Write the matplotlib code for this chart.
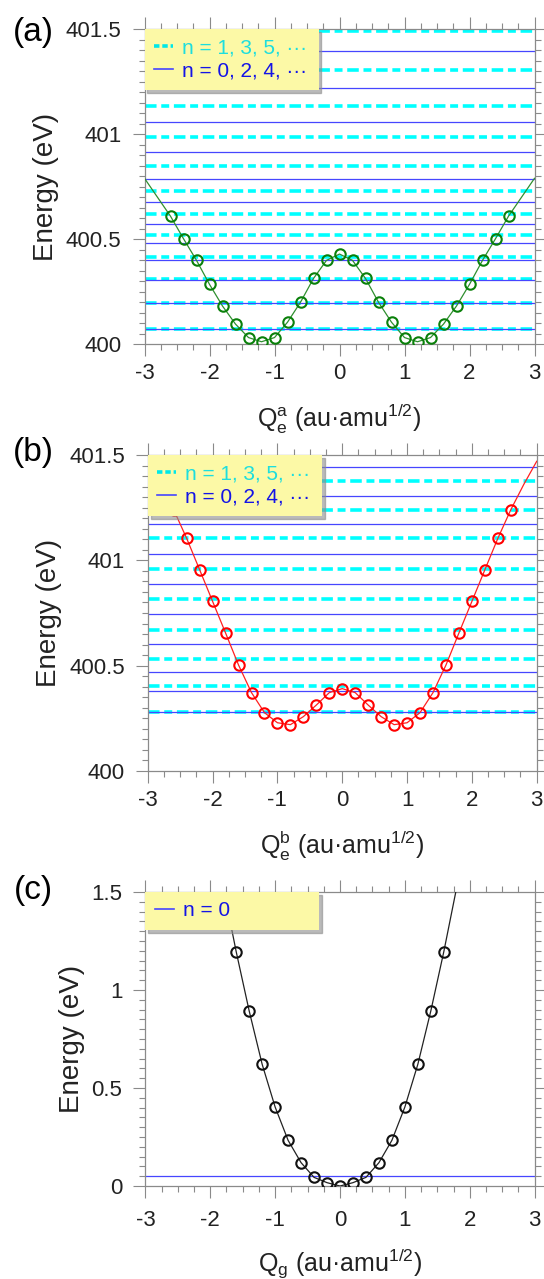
"""
plot.py
-------
Three stacked potential-energy panels with vibrational levels:
    (a) Q_e^a double well, (b) Q_e^b double well, (c) Q_g single well.
"""
import matplotlib
matplotlib.use("Agg")
import matplotlib.pyplot as plt
from matplotlib.lines import Line2D
from matplotlib.ticker import MultipleLocator

plt.rcParams["font.family"] = ["Liberation Sans", "DejaVu Sans"]
plt.rcParams["mathtext.fontset"] = "custom"
plt.rcParams["mathtext.rm"] = "Liberation Sans"
plt.rcParams["mathtext.it"] = "Liberation Sans:italic"
plt.rcParams["axes.unicode_minus"] = False

# ---- data ---------------------------------------------------------------
Q_AB = [-2.6, -2.4, -2.2, -2.0, -1.8, -1.6, -1.4, -1.2, -1.0, -0.8, -0.6,
        -0.4, -0.2, 0.0, 0.2, 0.4, 0.6, 0.8, 1.0, 1.2, 1.4, 1.6, 1.8, 2.0,
        2.2, 2.4, 2.6]
E_A = [400.610, 400.503, 400.400, 400.286, 400.183, 400.097, 400.033,
       400.013, 400.033, 400.106, 400.201, 400.314, 400.400, 400.430,
       400.400, 400.314, 400.201, 400.106, 400.033, 400.013, 400.033,
       400.097, 400.183, 400.286, 400.400, 400.503, 400.610]
E_B = [401.240, 401.104, 400.955, 400.805, 400.655, 400.503, 400.372,
       400.277, 400.229, 400.220, 400.258, 400.313, 400.372, 400.391,
       400.372, 400.313, 400.258, 400.220, 400.229, 400.277, 400.372,
       400.503, 400.655, 400.805, 400.955, 401.104, 401.240]
Q_C = [-1.6, -1.4, -1.2, -1.0, -0.8, -0.6, -0.4, -0.2, 0.0, 0.2, 0.4, 0.6,
       0.8, 1.0, 1.2, 1.4, 1.6]
E_C = [1.195, 0.893, 0.621, 0.403, 0.233, 0.119, 0.044, 0.017, 0.000,
       0.017, 0.044, 0.119, 0.233, 0.403, 0.621, 0.893, 1.195]

# continuation of the fitted curves beyond the outermost points
Q_END_AB = [-3.0, -2.8, 2.8, 3.0]
E_END_A = [400.79, 400.70, 400.70, 400.79]
E_END_B = [401.47, 401.36, 401.36, 401.47]
Q_END_C = [-1.8, 1.8]
E_END_C = [1.525, 1.525]

# vibrational levels (odd n dashed cyan, even n solid blue)
ODD_A = [400.076, 400.199, 400.311, 400.418, 400.520, 400.622, 400.730,
         400.848, 400.986, 401.133, 401.305, 401.490]
EVEN_A = [400.076, 400.199, 400.308, 400.400, 400.481, 400.573, 400.676,
          400.786, 400.914, 401.057, 401.219, 401.395]
ODD_B = [400.281, 400.403, 400.532, 400.671, 400.815, 400.960, 401.104,
         401.240, 401.375]
EVEN_B = [400.280, 400.378, 400.471, 400.601, 400.744, 400.888, 401.031,
          401.172, 401.307, 401.444]
EVEN_C = [0.049]

ODD_LABEL = "n = 1, 3, 5, \u00b7\u00b7\u00b7"
EVEN_LABEL = "n = 0, 2, 4, \u00b7\u00b7\u00b7"
GROUND_LABEL = "n = 0"
UNIT = " (au\u00b7amu$^\\mathrm{1/2}$)"

CYAN = "#00ffff"
BLUE = "#4646ff"
GRAY = "#8a8a8a"
DASH = (0, (3.2, 1.3, 2.2, 1.3))

W, H = 544, 1279


def add_axes(fig, left, right, top, bottom):
    return fig.add_axes([left / W, 1 - bottom / H,
                         (right - left) / W, (bottom - top) / H])


def full_curve(q, e, q_end, e_end):
    n = len(q_end) // 2
    return (q_end[:n] + q + q_end[n:], e_end[:n] + e + e_end[n:])


def style(ax, ylim, yticks, yfmt, xpad=5):
    ax.set_xlim(-3, 3)
    ax.set_ylim(*ylim)
    ax.set_xticks([-3, -2, -1, 0, 1, 2, 3])
    ax.set_xticklabels(["-3", "-2", "-1", "0", "1", "2", "3"])
    ax.set_yticks(yticks)
    ax.set_yticklabels(yfmt)
    ax.xaxis.set_minor_locator(MultipleLocator(0.25))
    ax.yaxis.set_minor_locator(MultipleLocator(0.05))
    ax.tick_params(which="both", direction="out", top=True, right=True,
                   color=GRAY, width=0.8)
    ax.tick_params(which="major", length=8.5, labelsize=16,
                   labelcolor="#222222")
    ax.tick_params(axis="x", which="major", pad=xpad)
    ax.tick_params(axis="y", which="major", pad=8)
    ax.tick_params(which="minor", length=4)
    for sp in ax.spines.values():
        sp.set_color(GRAY)
        sp.set_linewidth(0.9)
    ax.set_ylabel("Energy (eV)", fontsize=20, color="#222222", labelpad=5)


def levels(ax, odd, even):
    for e in odd:
        ax.axhline(e, color=CYAN, lw=2.6, ls=DASH, zorder=1)
    for e in even:
        ax.axhline(e, color=BLUE, lw=0.9, zorder=2)


def legend(ax, entries, frac):
    handles = [Line2D([], [], color=c, lw=lw, ls=ls) for c, lw, ls, _, _ in entries]
    leg = ax.legend(handles, [e[3] for e in entries], loc="upper left",
                    bbox_to_anchor=(0, 1, frac, 0), mode="expand",
                    borderaxespad=0, fontsize=15, handlelength=0.9,
                    handletextpad=0.45, borderpad=0.45, labelspacing=0.2,
                    fancybox=False, frameon=True, facecolor="#fcf9a6",
                    edgecolor="none", framealpha=1,
                    shadow={"color": "0.55", "alpha": 0.6})
    for txt, e in zip(leg.get_texts(), entries):
        txt.set_color(e[4])
    leg.set_zorder(10)
    return leg


ODD_ENTRY = ("#00e8e8", 2.6, (0, (1.5, 0.8)), ODD_LABEL, "#1ddede")
EVEN_ENTRY = (BLUE, 1.2, "-", EVEN_LABEL, "#1414e6")
GROUND_ENTRY = (BLUE, 1.2, "-", GROUND_LABEL, "#1414e6")

fig = plt.figure(figsize=(W / 100, H / 100), dpi=100)

# (a)
ax = add_axes(fig, 144.5, 534.5, 29, 344.5)
levels(ax, ODD_A, EVEN_A)
qx, ey = full_curve(Q_AB, E_A, Q_END_AB, E_END_A)
ax.plot(qx, ey, color="#2f8f2f", lw=0.9, zorder=3)
ax.plot(Q_AB, E_A, ls="none", marker="o", ms=7.5, mfc="none",
        mec="#0a800a", mew=1.5, zorder=4)
style(ax, (400, 401.5), [400, 400.5, 401, 401.5],
      ["400", "400.5", "401", "401.5"])
ax.set_xlabel(r"Q$_\mathrm{e}^\mathrm{a}$" + UNIT,
              fontsize=18, color="#222222", labelpad=13)
legend(ax, [ODD_ENTRY, EVEN_ENTRY], 174 / 390)
fig.text(33 / W, 1 - 32 / H, "(a)", fontsize=24, ha="center", va="center")

# (b)
ax = add_axes(fig, 147.8, 536.7, 455, 771)
levels(ax, ODD_B, EVEN_B)
qx, ey = full_curve(Q_AB, E_B, Q_END_AB, E_END_B)
ax.plot(qx, ey, color="#ff2020", lw=0.9, zorder=3)
ax.plot(Q_AB, E_B, ls="none", marker="o", ms=7.5, mfc="none",
        mec="#ff0000", mew=1.5, zorder=4)
style(ax, (400, 401.5), [400, 400.5, 401, 401.5],
      ["400", "400.5", "401", "401.5"])
ax.set_xlabel(r"Q$_\mathrm{e}^\mathrm{b}$" + UNIT,
              fontsize=18, color="#222222", labelpad=13)
legend(ax, [ODD_ENTRY, EVEN_ENTRY], 174 / 389)
fig.text(33 / W, 1 - 453 / H, "(b)", fontsize=24, ha="center", va="center")

# (c)
ax = add_axes(fig, 145.4, 534.6, 892, 1186)
levels(ax, [], EVEN_C)
qx, ey = full_curve(Q_C, E_C, Q_END_C, E_END_C)
ax.plot(qx, ey, color="#222222", lw=0.9, zorder=3)
ax.plot(Q_C, E_C, ls="none", marker="o", ms=7.5, mfc="none",
        mec="#111111", mew=1.5, zorder=4)
style(ax, (0, 1.5), [0, 0.5, 1, 1.5], ["0", "0.5", "1", "1.5"], xpad=9)
ax.set_xlabel(r"Q$_\mathrm{g}$" + UNIT,
              fontsize=18, color="#222222", labelpad=11)
legend(ax, [GROUND_ENTRY], 174 / 389)
fig.text(33 / W, 1 - 890 / H, "(c)", fontsize=24, ha="center", va="center")

fig.savefig("out.png", dpi=100)
